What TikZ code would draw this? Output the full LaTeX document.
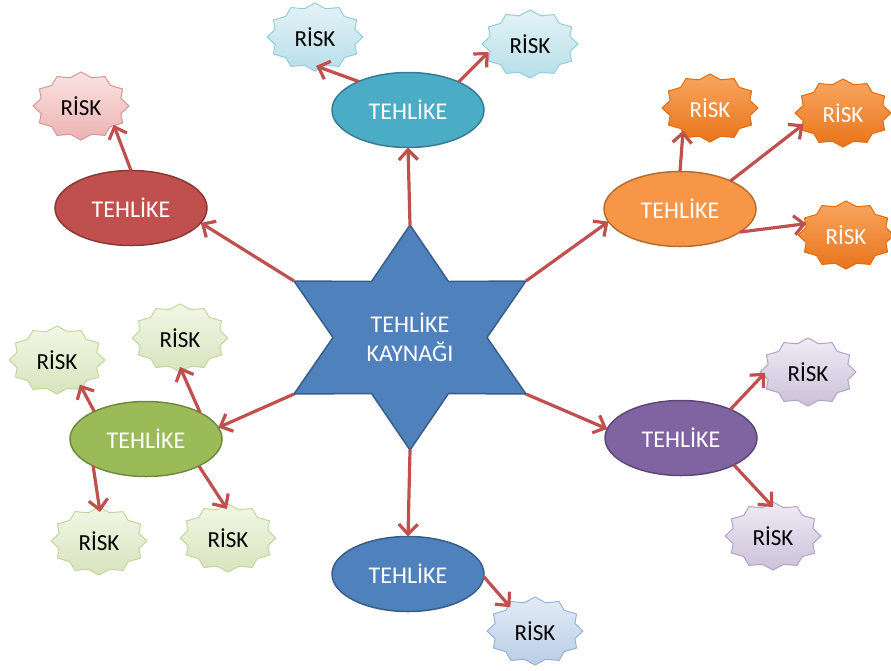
\documentclass[tikz,border=0pt]{standalone}
\usepackage{fontspec}
\setmainfont{Carlito}
\usetikzlibrary{arrows.meta,shapes.geometric}
\definecolor{arrc}{HTML}{C0504D}
\definecolor{bluef}{HTML}{4F81BD}\definecolor{blued}{HTML}{385D8A}
\definecolor{tealf}{HTML}{4BACC6}\definecolor{teald}{HTML}{357D91}
\definecolor{redf}{HTML}{C0504D}\definecolor{redd}{HTML}{8C3836}
\definecolor{orf}{HTML}{F79646}\definecolor{ord}{HTML}{B66D31}
\definecolor{grf}{HTML}{9BBB59}\definecolor{grd}{HTML}{71893F}
\definecolor{puf}{HTML}{8064A2}\definecolor{pud}{HTML}{5C4776}
\definecolor{cyt}{HTML}{E4F3F7}\definecolor{cyb}{HTML}{B7DEE8}\definecolor{cyd}{HTML}{93CDDD}
\definecolor{pkt}{HTML}{FBE3E2}\definecolor{pkb}{HTML}{EBB3B2}\definecolor{pkd}{HTML}{D99694}
\definecolor{ort}{HTML}{F9A660}\definecolor{orb}{HTML}{E8741A}\definecolor{ordk}{HTML}{E46C0A}
\definecolor{gnt}{HTML}{F2F7E6}\definecolor{gnb}{HTML}{D7E4BD}\definecolor{gnd}{HTML}{C3D69B}
\definecolor{plt}{HTML}{EFEBF4}\definecolor{plb}{HTML}{CCC1DA}\definecolor{pld}{HTML}{B3A2C7}
\definecolor{blt}{HTML}{E3EBF6}\definecolor{blb}{HTML}{B9CDE5}\definecolor{bld}{HTML}{95B3D7}
\newcommand\riskat[5]{%
  \draw[line width=1pt,#4] plot[samples at={0,15,...,345}]
    ({#2+48*(0.93+0.07*cos(12*\x))*cos(\x)},{#3+34*(0.93+0.07*cos(12*\x))*sin(\x)}) -- cycle;
  \node[riskn, text=#5] (#1) at (#2,#3) {RİSK};
}
\begin{document}
\begin{tikzpicture}[x=1pt,y=-1pt,
  haz/.style={ellipse, minimum width=152pt, minimum height=75pt, inner sep=0pt, outer sep=0pt,
    line width=1.5pt, text=white, font=\fontsize{24}{28}\selectfont},
  riskn/.style={ellipse, minimum width=86pt, minimum height=58pt, inner sep=0pt, outer sep=0pt,
    font=\fontsize{23}{27}\selectfont},
  arr/.style={draw=arrc, line width=3.2pt, -{Straight Barb[length=10pt,width=19pt]}},
  rcyan/.style={draw=cyd, top color=cyt, bottom color=cyb},
  rpink/.style={draw=pkd, top color=pkt, bottom color=pkb},
  rorange/.style={draw=ordk, top color=ort, bottom color=orb},
  rgreen/.style={draw=gnd, top color=gnt, bottom color=gnb},
  rpurple/.style={draw=pld, top color=plt, bottom color=plb},
  rblue/.style={draw=bld, top color=blt, bottom color=blb}
]
\useasboundingbox (0,0) rectangle (891,670);

% star
\coordinate (sT) at (410,225);
\coordinate (sUR) at (526,281);
\coordinate (sLR) at (526,394);
\coordinate (sB) at (410,450);
\coordinate (sLL) at (294,394);
\coordinate (sUL) at (294,281);
\draw[fill=bluef, draw=blued, line width=1.5pt] (sT) -- (448.5,281.5) -- (sUR) -- (487,337.5) -- (sLR)
  -- (448.5,393.5) -- (sB) -- (371.5,393.5) -- (sLL) -- (333,337.5) -- (sUL) -- (371.5,281.5) -- cycle;
\node[align=center, text=white, font=\fontsize{24}{29}\selectfont] (src) at (410,337) {TEHLİKE\\KAYNAĞI};

% hazards
\node[haz, fill=tealf, draw=teald] (t) at (408,110) {TEHLİKE};
\node[haz, fill=redf, draw=redd] (e) at (131,208) {TEHLİKE};
\node[haz, fill=orf, draw=ord] (o) at (680,209) {TEHLİKE};
\node[haz, fill=grf, draw=grd] (g) at (146,439) {TEHLİKE};
\node[haz, fill=puf, draw=pud] (p) at (681,438) {TEHLİKE};
\node[haz, fill=bluef, draw=blued] (b) at (408,574) {TEHLİKE};

% risks
\riskat{r1}{315}{37}{rcyan}{black}
\riskat{r2}{530}{44}{rcyan}{black}
\riskat{er}{81}{106}{rpink}{black}
\riskat{or1}{710}{108}{rorange}{white}
\riskat{or2}{843}{113}{rorange}{white}
\riskat{or3}{846}{235}{rorange}{white}
\riskat{gr1}{57}{360}{rgreen}{black}
\riskat{gr2}{180}{338}{rgreen}{black}
\riskat{gr3}{99}{541}{rgreen}{black}
\riskat{gr4}{228}{538}{rgreen}{black}
\riskat{pr1}{808}{372}{rpurple}{black}
\riskat{pr2}{773}{536}{rpurple}{black}
\riskat{br}{535}{631}{rblue}{black}

% star to hazards
\draw[arr] (sT) -- (t.-90);
\draw[arr] (sUL) -- (e.-12);
\draw[arr] (sUR) -- (o.190);
\draw[arr] (sLL) -- (g.9);
\draw[arr] (sLR) -- (p.173);
\draw[arr] (sB) -- (b.90);

% hazards to risks
\draw[arr] (t.150) -- (r1.-88);
\draw[arr] (t.29) -- (r2.191);
\draw[arr] (e.90) -- (er.-30);
\draw[arr] (o.90) -- (or1.220);
\draw[arr] (o.29) -- (or2.196);
\draw[arr] (o.-21) -- (or3.164);
\draw[arr] (g.152) -- (gr1.-47);
\draw[arr] (g.26) -- (gr2.-90);
\draw[arr] (g.207) -- (gr3.88);
\draw[arr] (g.-27) -- (gr4.92);
\draw[arr] (p.30) -- (pr1.181);
\draw[arr] (p.-27) -- (pr2.90);
\draw[arr] (b.-2) -- (br.136);
\end{tikzpicture}
\end{document}
